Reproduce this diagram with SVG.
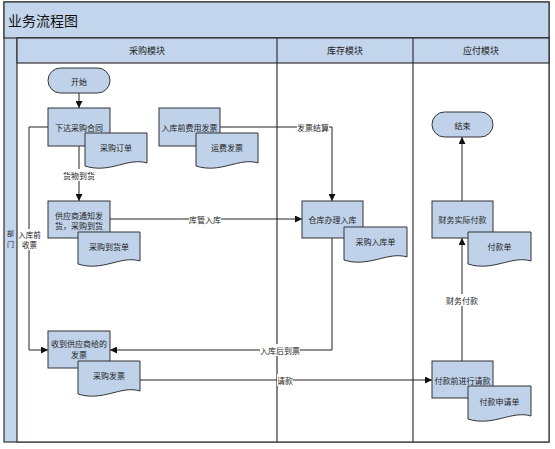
<svg xmlns="http://www.w3.org/2000/svg" width="555" height="449" viewBox="0 0 555 449">
<defs>
<style>
text{font-family:"Noto Sans CJK SC","Noto Sans",sans-serif;font-size:8px;fill:#222;text-anchor:middle;dominant-baseline:central}
.band{fill:#c3d5ec;stroke:#333;stroke-width:1.2}
.lane{fill:#fff;stroke:#333;stroke-width:1.2}
.node{fill:#bfd2ea;stroke:#333;stroke-width:1}
.conn{fill:none;stroke:#222;stroke-width:1}
.lbl{fill:#fff}
.title{font-size:14px;text-anchor:start;fill:#111}
.hdr{font-size:9px}
.small{font-size:7px}
</style>
<marker id="ah" viewBox="0 0 10 10" refX="10" refY="5" markerWidth="7" markerHeight="7" markerUnits="userSpaceOnUse" orient="auto">
<path d="M0,0 L10,5 L0,10 z" fill="#111"/>
</marker>
</defs>
<rect width="555" height="449" fill="#fff"/>
<g id="pool">
<rect class="band" x="4" y="2" width="545" height="440"/>
<rect class="band" x="4" y="2" width="545" height="36"/>
<text class="title" x="8" y="20">业务流程图</text>
<rect class="lane" x="17" y="38" width="532" height="404"/>
<rect class="band" x="17" y="38" width="532" height="25"/>
<line x1="277" y1="38" x2="277" y2="442" stroke="#333" stroke-width="1.2"/>
<line x1="413" y1="38" x2="413" y2="442" stroke="#333" stroke-width="1.2"/>
<text class="hdr" x="147" y="50.5">采购模块</text>
<text class="hdr" x="345" y="50.5">库存模块</text>
<text class="hdr" x="481" y="50.5">应付模块</text>
<text class="small" x="10.5" y="233">部</text>
<text class="small" x="10.5" y="244">门</text>
</g>
<g id="connectors">
<path class="conn" d="M79 93 V108" marker-end="url(#ah)"/>
<path class="conn" d="M79 146 V201" marker-end="url(#ah)"/>
<path class="conn" d="M110 219 H302" marker-end="url(#ah)"/>
<path class="conn" d="M220 127 H332 V201" marker-end="url(#ah)"/>
<path class="conn" d="M332 238 V350 H110" marker-end="url(#ah)"/>
<path class="conn" d="M48 127 H29 V350 H48" marker-end="url(#ah)"/>
<path class="conn" d="M140 380 H432" marker-end="url(#ah)" stroke="#555"/>
<path class="conn" d="M462 361 V238" marker-end="url(#ah)"/>
<path class="conn" d="M462 201 V137" marker-end="url(#ah)"/>
<rect class="lbl" x="63" y="169" width="32" height="12"/><text x="79" y="175">货物到货</text>
<rect class="lbl" x="189" y="213" width="32" height="12"/><text x="205" y="219">库管入库</text>
<rect class="lbl" x="297" y="121" width="32" height="12"/><text x="313" y="127">发票结算</text>
<rect class="lbl" x="260" y="344" width="40" height="12"/><text x="280" y="350">入库后到票</text>
<rect class="lbl" x="19" y="229" width="21" height="21"/><text x="29.5" y="234.5" style="font-size:7.5px">入库前</text><text x="29.5" y="244.5" style="font-size:7.5px">收票</text>
<rect class="lbl" x="277" y="374" width="16" height="12"/><text x="285" y="380">请款</text>
<rect class="lbl" x="446" y="294" width="32" height="12"/><text x="462" y="300">财务付款</text>
</g>
<g id="n-start"><rect class="node" x="48" y="68" width="62" height="25" rx="12.5"/><text x="79" y="81">开始</text></g>
<g id="n-contract"><rect class="node" x="48" y="108" width="62" height="38"/><text x="79" y="127">下达采购合同</text></g>
<g id="n-order"><path class="node" d="M85 133 H147 V163 C128 157 110 174 85 166 Z"/><text x="116" y="147">采购订单</text></g>
<g id="n-feeinv"><rect class="node" x="159" y="108" width="61" height="38"/><text x="189.5" y="127">入库前费用发票</text></g>
<g id="n-freight"><path class="node" d="M196 133 H258 V163 C239 157 221 174 196 166 Z"/><text x="227" y="147">运费发票</text></g>
<g id="n-supplier"><rect class="node" x="48" y="201" width="62" height="37"/><text x="79" y="215">供应商通知发</text><text x="79" y="225">货，采购到货</text></g>
<g id="n-arrival"><path class="node" d="M78 232 H140 V261 C121 255 103 272 78 264 Z"/><text x="109" y="246">采购到货单</text></g>
<g id="n-warehouse"><rect class="node" x="302" y="201" width="61" height="37"/><text x="332.5" y="219">仓库办理入库</text></g>
<g id="n-instock"><path class="node" d="M344 227 H407 V257 C388 251 369 268 344 260 Z"/><text x="375.5" y="241">采购入库单</text></g>
<g id="n-receive"><rect class="node" x="48" y="331" width="62" height="37"/><text x="79" y="343">收到供应商给的</text><text x="79" y="354">发票</text></g>
<g id="n-pinv"><path class="node" d="M78 361 H140 V391 C121 385 103 402 78 394 Z"/><text x="109" y="375">采购发票</text></g>
<g id="n-end"><rect class="node" x="432" y="112" width="61" height="25" rx="12.5"/><text x="462.5" y="125">结束</text></g>
<g id="n-pay"><rect class="node" x="432" y="201" width="61" height="37"/><text x="462.5" y="219">财务实际付款</text></g>
<g id="n-paybill"><path class="node" d="M468 232 H531 V261 C512 255 493 272 468 264 Z"/><text x="499.5" y="246">付款单</text></g>
<g id="n-request"><rect class="node" x="432" y="361" width="61" height="37"/><text x="462.5" y="380">付款前进行请款</text></g>
<g id="n-reqform"><path class="node" d="M468 386 H531 V416 C512 410 493 427 468 419 Z"/><text x="499.5" y="401">付款申请单</text></g>
</svg>
